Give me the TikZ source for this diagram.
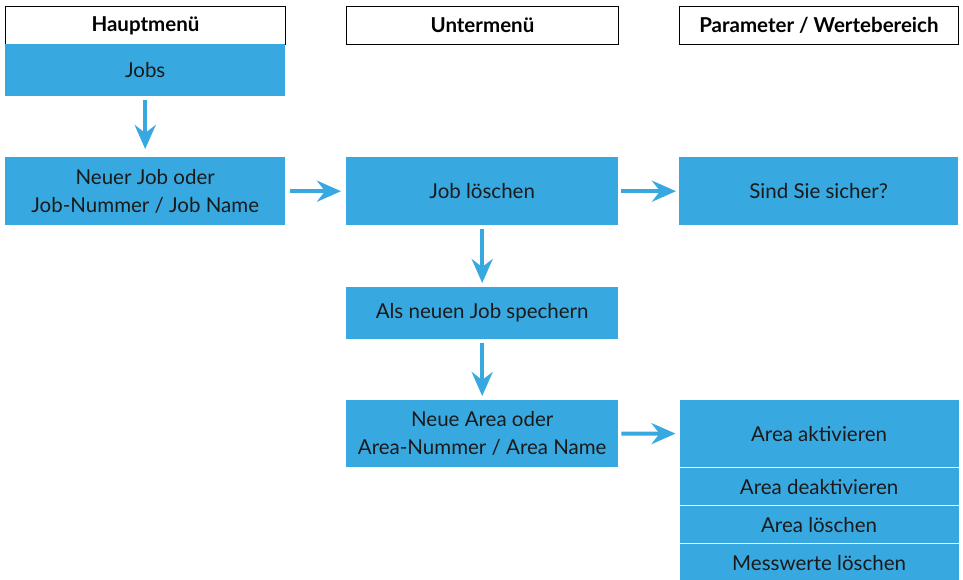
\documentclass[tikz,border=0pt]{standalone}
\usepackage{fontspec}
\setmainfont{Lato}
\usetikzlibrary{arrows.meta}
\definecolor{boxblue}{HTML}{38A9E0}
\definecolor{txt}{HTML}{1A1A1A}
\begin{document}
\begin{tikzpicture}[x=1pt,y=-1pt,
  hdr/.style={draw=black,line width=0.9pt,fill=white,anchor=north west,inner sep=0pt,
    font=\fontsize{20.5}{24}\selectfont\bfseries,text=black},
  bluebox/.style={fill=boxblue,anchor=north west,inner sep=0pt,align=center,
    font=\fontsize{20.5}{28}\selectfont,text=txt},
  stackbox/.style={bluebox,draw=white,line width=1.2pt},
  flow/.style={draw=boxblue,line width=4pt,-{Stealth[length=24pt,width=21pt,inset=8pt]}}
]
\useasboundingbox (0,0) rectangle (963,579);
% headers
\node[hdr,minimum width=280,minimum height=38] (h1) at (5,6) {Hauptmenü};
\node[hdr,minimum width=272,minimum height=38] (h2) at (346,6) {Untermenü};
\node[hdr,minimum width=279,minimum height=38] (h3) at (679,6) {Parameter / Wertebereich};
% column 1
\node[bluebox,minimum width=280,minimum height=52] (jobs) at (5,44) {Jobs};
\node[bluebox,minimum width=280,minimum height=68] (neu) at (5,157) {Neuer Job oder\\Job-Nummer / Job Name};
% column 2
\node[bluebox,minimum width=272,minimum height=68] (del) at (346,157) {Job löschen};
\node[bluebox,minimum width=272,minimum height=52] (save) at (346,287) {Als neuen Job spechern};
\node[bluebox,minimum width=272,minimum height=67] (area) at (346,400) {Neue Area oder\\Area-Nummer / Area Name};
% column 3
\node[bluebox,minimum width=279,minimum height=68] (sure) at (679,157) {Sind Sie sicher?};
\node[stackbox,minimum width=280,minimum height=68] (akt) at (678.5,399) {Area aktivieren};
\node[stackbox,minimum width=280,minimum height=38] (deakt) at (678.5,467) {Area deaktivieren};
\node[stackbox,minimum width=280,minimum height=38] (aloe) at (678.5,505) {Area löschen};
\node[stackbox,minimum width=280,minimum height=38] (mloe) at (678.5,543) {Messwerte löschen};
% arrows
\draw[flow] ([yshift=-4pt]jobs.south) -- ([yshift=8pt]neu.north);
\draw[flow] ([xshift=5pt]neu.east) -- ([xshift=-5pt]del.west);
\draw[flow] ([xshift=3pt]del.east) -- ([xshift=-3pt]sure.west);
\draw[flow] ([yshift=-4pt]del.south) -- ([yshift=4pt]save.north);
\draw[flow] ([yshift=-4pt]save.south) -- ([yshift=4pt]area.north);
\draw[flow] ([xshift=3pt]area.east) -- ([xshift=-3pt]akt.west);
\end{tikzpicture}
\end{document}
